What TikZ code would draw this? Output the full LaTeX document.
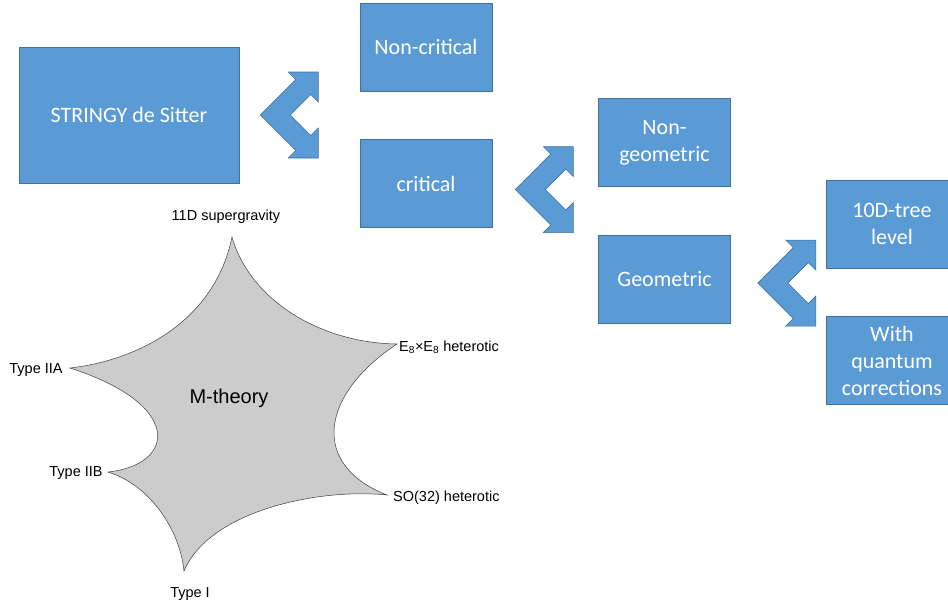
\documentclass[tikz,border=0pt]{standalone}
\usepackage{fontspec}
\setmainfont{Carlito}
\newfontfamily\starfont{Liberation Sans}
\usetikzlibrary{positioning}
\definecolor{boxblue}{HTML}{5B9BD5}
\definecolor{boxline}{HTML}{41719C}
\definecolor{stargray}{HTML}{CCCCCC}

\tikzset{
  pics/bentarrow/.style={code={
    \filldraw[fill=boxblue, draw=boxline, line width=0.6pt]
      (0,0) -- (35.5,-35.5) -- (28,-43) -- (58,-43) -- (58,-13)
      -- (50.5,-20.5) -- (30,0) -- (50.5,20.5) -- (58,13)
      -- (58,43) -- (28,43) -- (35.5,35.5) -- cycle;
  }}
}

\begin{document}
\begin{tikzpicture}[
  x=1pt, y=-1pt,
  bluebox/.style={draw=boxline, fill=boxblue, line width=0.6pt,
                  text=white, align=center, inner sep=0pt,
                  minimum width=132pt, minimum height=88pt,
                  font=\fontsize{22}{27}\selectfont},
  tiplabel/.style={font=\starfont\fontsize{14.5}{16}\selectfont, inner sep=0pt},
  node distance=48pt
]
  \useasboundingbox (0,0) rectangle (948,608);

  % - Hop xanh: cay phan loai -
  \node[bluebox, minimum width=220pt, minimum height=136pt] (stringy) at (129,115) {STRINGY de Sitter};
  \node[bluebox] (noncrit) at (426,47) {Non-critical};
  \node[bluebox, below=of noncrit] (crit) {critical};
  \node[bluebox] (nongeo) at (664.5,142.5) {Non-\\geometric};
  \node[bluebox, below=of nongeo] (geo) {Geometric};
  \node[bluebox] (tree) at (892,224) {10D-tree\\level};
  \node[bluebox, below=of tree] (quantum) {With\\quantum\\corrections};

  % - Mui ten gap -
  \pic at ([xshift=21pt]stringy.east) {bentarrow};
  \pic at ([xshift=23pt,yshift=-6pt]crit.east) {bentarrow};
  \pic at ([xshift=27pt,yshift=-4pt]geo.east) {bentarrow};

  % - Ngoi sao M-theory -
  \coordinate (tTop) at (232,237);
  \coordinate (tE)   at (397,344);
  \coordinate (tSO)  at (387,495);
  \coordinate (tBot) at (184,571);
  \coordinate (tIIB) at (108,472);
  \coordinate (tIIA) at (70,368);
  \filldraw[fill=stargray, draw=black!75, line width=0.5pt]
    (tTop) .. controls (250,300) and (320,343) .. (tE)
           .. controls (320,395) and (310,465) .. (tSO)
           .. controls (320,488) and (210,510) .. (tBot)
           .. controls (180,530) and (150,485) .. (tIIB)
           .. controls (175,465) and (185,405) .. (tIIA)
           .. controls (140,360) and (215,320) .. (tTop) -- cycle;
  \node[font=\starfont\fontsize{20}{24}\selectfont] (mtheory) at (229,398) {M-theory};

  \node[tiplabel] (sugra) at (226,217) {11D supergravity};
  \node[tiplabel, anchor=west] (heteE) at (399,347) {E\textsubscript{8}×E\textsubscript{8} heterotic};
  \node[tiplabel, anchor=west] (heteSO) at (393,498) {SO(32) heterotic};
  \node[tiplabel] (typeIIA) at (36,370) {Type IIA};
  \node[tiplabel] (typeIIB) at (76,473) {Type IIB};
  \node[tiplabel] (typeI) at (190,594) {Type I};
\end{tikzpicture}
\end{document}
